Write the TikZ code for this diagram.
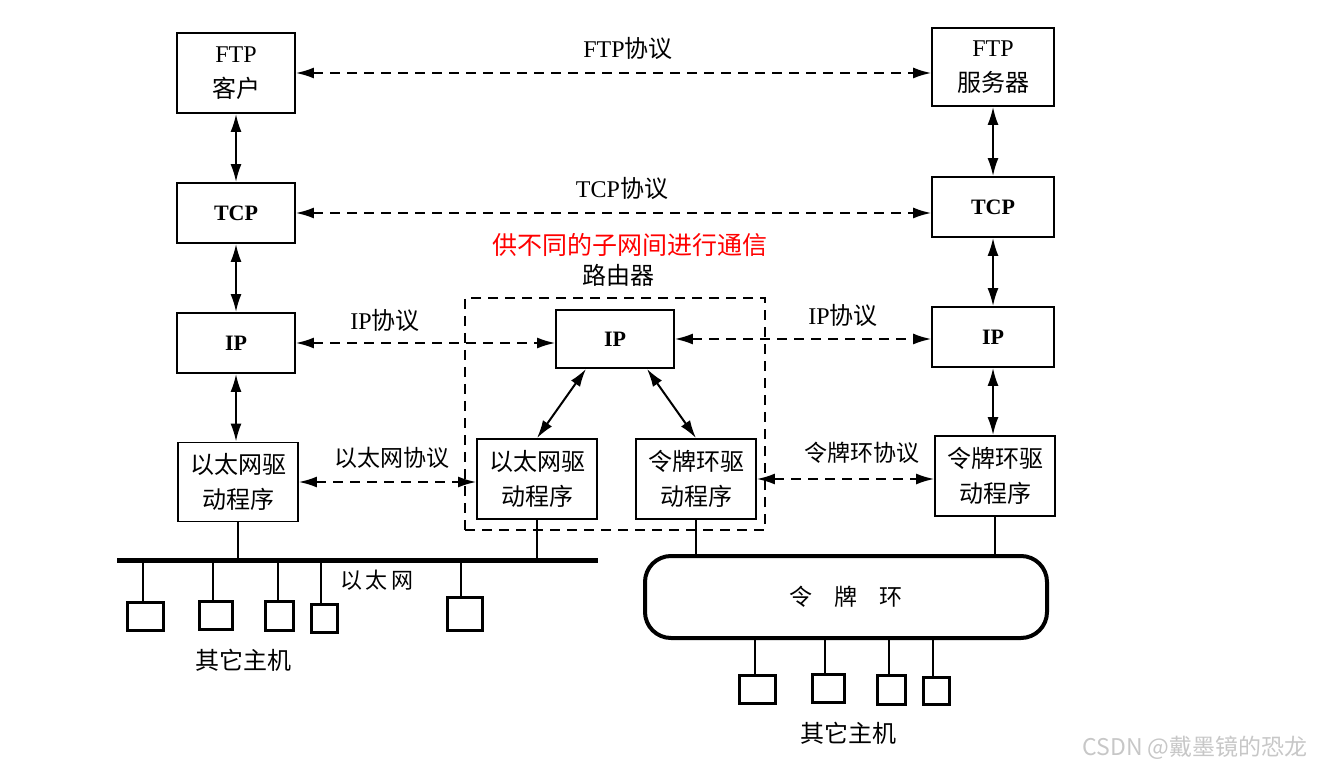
\documentclass[tikz,border=0pt]{standalone}
\usepackage{fontspec}
\setmainfont{Liberation Serif}
\newfontfamily\cjk{Noto Sans CJK SC}
\usetikzlibrary{arrows.meta}
\newcommand\zh[1]{{\cjk #1}}
\begin{document}
\begin{tikzpicture}[x=1pt,y=-1pt,
  box/.style={draw, line width=1.8pt, inner sep=0pt, align=center, font=\fontsize{24}{35}\selectfont},
  bbox/.style={box, font=\fontsize{22}{26}\selectfont\bfseries},
  tip/.style={Latex[length=18pt,width=11pt]},
  proto/.style={line width=1.8pt, dash pattern=on 10pt off 7pt, {Latex[length=18pt,width=11pt]}-{Latex[length=18pt,width=11pt]}},
  link/.style={line width=2pt, {Latex[length=18pt,width=11pt]}-{Latex[length=18pt,width=11pt]}},
  lbl/.style={inner sep=0pt, font=\fontsize{24}{28}\selectfont},
  host/.style={draw, line width=3pt, inner sep=0pt},
  wire/.style={line width=2pt}]
\useasboundingbox (0,0) rectangle (1328,775);

% left host stack
\node[box, minimum width=118pt, minimum height=80pt] (ftpc) at (236,73) {FTP\\\zh{客户}};
\node[bbox, minimum width=118pt, minimum height=60pt] (tcpl) at (236,213) {TCP};
\node[bbox, minimum width=118pt, minimum height=60pt] (ipl) at (236,343) {IP};
\node[box, minimum width=120pt, minimum height=79pt] (ethl) at (238,482) {\zh{以太网驱}\\\zh{动程序}};

% right host stack
\node[box, minimum width=122pt, minimum height=78pt] (ftps) at (993,67) {FTP\\\zh{服务器}};
\node[bbox, minimum width=122pt, minimum height=60pt] (tcpr) at (993,207) {TCP};
\node[bbox, minimum width=122pt, minimum height=60pt] (ipr) at (993,337) {IP};
\node[box, minimum width=120pt, minimum height=80pt] (tokr) at (995,476) {\zh{令牌环驱}\\\zh{动程序}};

% router
\node[draw, line width=1.8pt, dash pattern=on 10pt off 7pt, minimum width=300pt, minimum height=232pt] (router) at (615,414) {};
\node[bbox, minimum width=118pt, minimum height=58pt] (ipm) at (615,339) {IP};
\node[box, minimum width=120pt, minimum height=80pt] (ethm) at (537,479) {\zh{以太网驱}\\\zh{动程序}};
\node[box, minimum width=120pt, minimum height=80pt] (tokm) at (696,479) {\zh{令牌环驱}\\\zh{动程序}};
\node[lbl] (rname) at (618,275) {\zh{路由器}};
\node[lbl, text=red, font=\fontsize{25}{28}\selectfont] (rnote) at (630,245) {\zh{供不同的子网间进行通信}};

% vertical links
\draw[link] (ftpc) -- (tcpl);
\draw[link] (tcpl) -- (ipl);
\draw[link] (ipl) -- (ethl.north -| ipl.south);
\draw[link] (ftps) -- (tcpr);
\draw[link] (tcpr) -- (ipr);
\draw[link] (ipr) -- (tokr.north -| ipr.south);
\draw[link] ([xshift=-29pt]ipm.south) -- (ethm.north);
\draw[link] ([xshift=32pt]ipm.south) -- (tokm.north);

% peer protocols
\draw[proto] (ftpc.east) -- (ftpc.east -| ftps.west);
\draw[proto] (tcpl.east) -- (tcpl.east -| tcpr.west);
\draw[proto] (ipl.east) -- (ipl.east -| ipm.west);
\draw[proto] (ipm.east) -- (ipm.east -| ipr.west);
\draw[proto] (ethl.east) -- (ethl.east -| ethm.west);
\draw[proto] (tokm.east) -- (tokm.east -| tokr.west);

\node[lbl] (lftp) at (628,48) {FTP\zh{协议}};
\node[lbl] (ltcp) at (622,188) {TCP\zh{协议}};
\node[lbl] (lipl) at (385,320) {IP\zh{协议}};
\node[lbl] (lipr) at (843,315) {IP\zh{协议}};
\node[lbl, font=\fontsize{23}{28}\selectfont] (leth) at (392,458) {\zh{以太网协议}};
\node[lbl, font=\fontsize{23}{28}\selectfont] (ltok) at (862,453) {\zh{令牌环协议}};

% Ethernet
\coordinate (e1) at (117,560);
\coordinate (e2) at (598,560);
\draw[line width=5pt] (e1) -- (e2);
\draw[wire] (ethl.south) -- (ethl.south |- e1);
\draw[wire] (ethm.south) -- (ethm.south |- e1);
\node[lbl, font=\fontsize{22}{26}\selectfont] (lether) at (377,580) {\zh{以\,太\,网}};

\node[host, minimum width=36pt, minimum height=28pt] (h1) at (145,616) {};
\node[host, minimum width=33pt, minimum height=28pt] (h2) at (216,615) {};
\node[host, minimum width=28pt, minimum height=29pt] (h3) at (279,616) {};
\node[host, minimum width=26pt, minimum height=28pt] (h4) at (324,618) {};
\node[host, minimum width=35pt, minimum height=33pt] (h5) at (465,614) {};
\foreach \h/\x in {h1/143,h2/213,h3/278,h4/321,h5/461}
  \draw[wire, line width=2.5pt] (\x,560) -- (\h.north -| \x,0);
\node[lbl] (oth1) at (243,660) {\zh{其它主机}};

% Token ring
\node[draw, line width=4pt, rounded corners=26pt, minimum width=402pt, minimum height=82pt,
      font=\fontsize{23}{28}\selectfont] (ring) at (846,597) {\zh{令\hspace{22pt}牌\hspace{22pt}环}};
\draw[wire] (tokm.south) -- (tokm.south |- ring.north);
\draw[wire] (tokr.south) -- (tokr.south |- ring.north);

\node[host, minimum width=36pt, minimum height=28pt] (r1) at (757,689) {};
\node[host, minimum width=32pt, minimum height=28pt] (r2) at (828,688) {};
\node[host, minimum width=28pt, minimum height=29pt] (r3) at (891,690) {};
\node[host, minimum width=26pt, minimum height=27pt] (r4) at (936,691) {};
\foreach \h/\x in {r1/755,r2/825,r3/889,r4/933}
  \draw[wire, line width=2.5pt] (\x,639) -- (\h.north -| \x,0);
\node[lbl] (oth2) at (848,733) {\zh{其它主机}};

% watermark
\node[inner sep=0pt, text=black!22, font=\fontsize{23}{26}\selectfont\cjk] (wm) at (1195,748) {CSDN @戴墨镜的恐龙};
\end{tikzpicture}
\end{document}
